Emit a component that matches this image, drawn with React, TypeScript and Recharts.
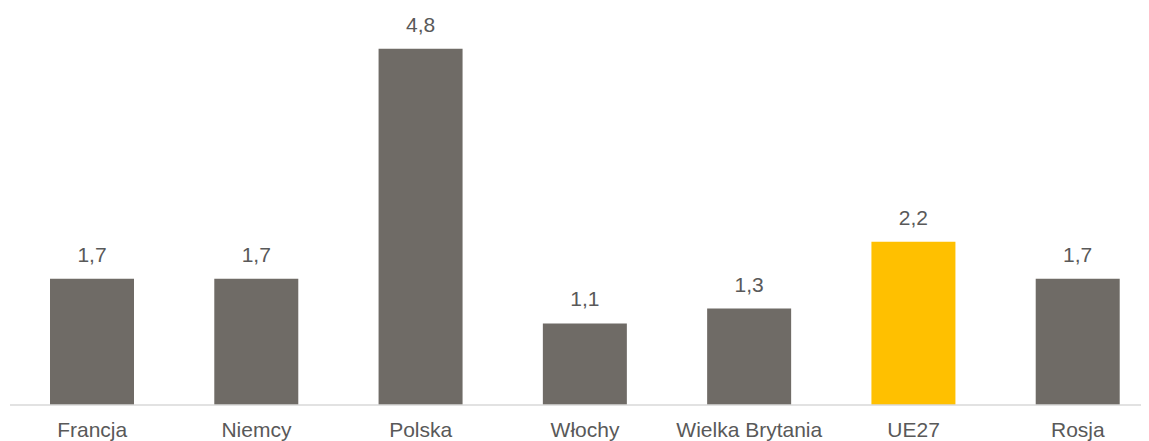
import React from 'react';
import { BarChart, Bar, XAxis, YAxis, Cell, LabelList } from 'recharts';

const categories = ['Francja', 'Niemcy', 'Polska', 'Włochy', 'Wielka Brytania', 'UE27', 'Rosja'];
const values = [1.7, 1.7, 4.8, 1.1, 1.3, 2.2, 1.7];
const highlighted = 'UE27';

const data = categories.map((name, i) => ({ name, value: values[i] }));

const formatValue = (v: any) => String(v).replace('.', ',');

const App = () => {
  return (
    <div style={{ width: 1141, height: 433, overflow: 'hidden' }}>
      <BarChart
        width={1152}
        height={433}
        data={data}
        margin={{ top: 26, right: 0, left: 2, bottom: 0 }}
        barSize={84}
      >
        <XAxis
          dataKey="name"
          height={36}
          tickLine={false}
          tickSize={0}
          tickMargin={17}
          axisLine={{ stroke: '#d9d9d9', strokeWidth: 1.5 }}
          tick={{ fill: '#595959', fontSize: 21, fontFamily: 'Liberation Sans, Arial, sans-serif' }}
          interval={0}
        />
        <YAxis hide domain={[0, 5]} />
        <Bar dataKey="value" isAnimationActive={false}>
          {data.map((d) => (
            <Cell key={d.name} fill={d.name === highlighted ? '#ffc000' : '#6f6b66'} />
          ))}
          <LabelList
            dataKey="value"
            position="top"
            offset={17}
            formatter={formatValue}
            fill="#595959"
            fontSize={21}
            fontFamily="Liberation Sans, Arial, sans-serif"
          />
        </Bar>
      </BarChart>
    </div>
  );
};

export default App;
